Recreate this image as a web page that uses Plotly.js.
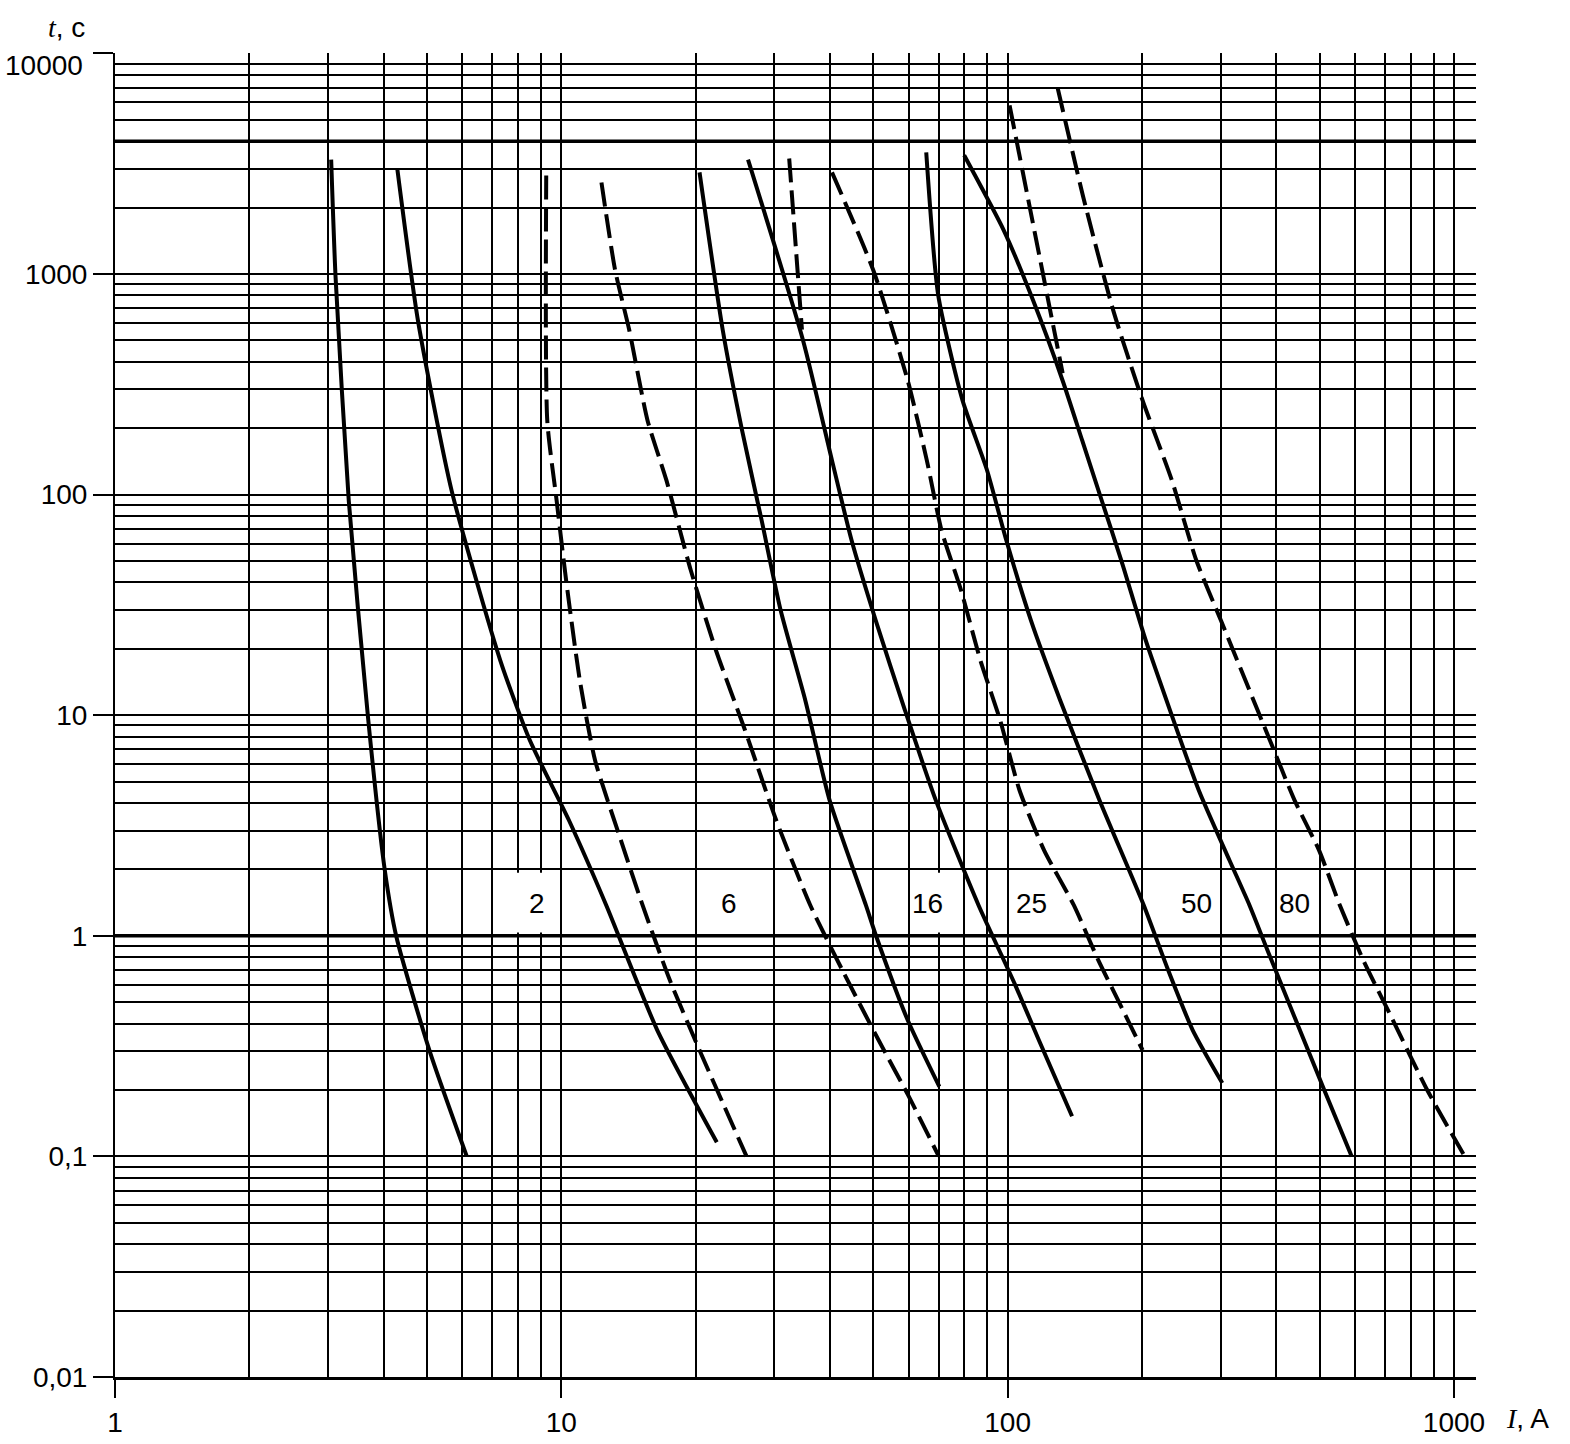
<!DOCTYPE html>
<html><head><meta charset="utf-8">
<script src="https://cdn.plot.ly/plotly-3.0.1.min.js"></script>
<style>html,body{margin:0;padding:0;background:#fff}#chart{width:1570px;height:1444px}</style>
</head><body><div id="chart"></div>
<script>
// ---- Data: current I (A) and time t (s) for each characteristic ----
const curveA_I = [3.05, 3.12, 3.34, 3.69, 4.02, 4.27, 5.07, 6.14];
const curveA_t = [3300, 970, 94, 9.7, 2.0, 0.99, 0.30, 0.10];

const curveB_I = [4.29, 4.77, 5.68, 7.30, 8.50, 10.4, 12.6, 16.4, 22.3];
const curveB_t = [3000, 620, 104, 17.7, 7.7, 3.34, 1.38, 0.374, 0.116];

const curveC_I = [9.25, 9.30, 9.76, 10.25, 11.0, 11.9, 13.6, 15.2, 17.5, 20.4, 26.0];
const curveC_t = [2800, 217, 94, 40.9, 14.4, 6.25, 2.71, 1.38, 0.63, 0.303, 0.10];

const curveD_I = [12.3, 13.2, 14.2, 15.6, 17.2, 19.5, 22.2, 25.8, 30.3, 36.1, 42.6, 51.4, 59.8, 70.1];
const curveD_t = [2600, 1040, 556, 217, 116, 45.4, 19.7, 8.55, 3.34, 1.38, 0.70, 0.336, 0.19, 0.10];

const curveE_I = [20.4, 23.0, 25.4, 28.1, 31.0, 35.2, 39.9, 48.1, 50.8, 59.7, 70.3];
const curveE_t = [2890, 556, 196, 76.6, 29.9, 11.7, 4.12, 1.38, 0.99, 0.415, 0.207];

const curveF_I = [26.2, 34.8, 40.4, 44.7, 50.6, 58.9, 69.0, 86.0, 104.0, 117.5, 139.4];
const curveF_t = [3300, 500, 143, 62.1, 27, 10.5, 4.12, 1.38, 0.598, 0.336, 0.152];

const curveF2_I = [32.4, 34.6];
const curveF2_t = [3340, 560];

const curveG_I = [40.4, 50.0, 59.7, 65.9, 71.1, 78.6, 86.9, 96.2, 106.3, 120.7, 140.6, 159.6, 176.7, 200.6];
const curveG_t = [2890, 1040, 330, 143, 68.8, 36.9, 17.7, 9.5, 4.57, 2.44, 1.38, 0.776, 0.511, 0.303];

const curveH_I = [65.7, 69.9, 79.2, 89.9, 99.3, 112.7, 131.1, 160.6, 201.7, 228.8, 259.7, 302.6];
const curveH_t = [3557, 800, 268, 129, 62.1, 27, 11.7, 4.12, 1.38, 0.70, 0.374, 0.215];

const curveI_I = [79.9, 98.0, 114.0, 132.7, 146.9, 162.4, 179.7, 203.8, 231.2, 268, 314, 348, 382, 439, 512, 590];
const curveI_t = [3453, 1578, 760, 330, 176, 94.3, 50.4, 21.9, 10.5, 4.57, 2.2, 1.38, 0.86, 0.43, 0.20, 0.10];

const curveI2_I = [101, 132.8];
const curveI2_t = [5810, 355];

const curveJ_I = [129.5, 148.3, 172.4, 200.5, 233.3, 264.6, 300.2, 340.9, 386.8, 439.2, 498.6, 554.6, 626.3, 729.5, 871, 1057];
const curveJ_t = [6935, 2160, 684, 268, 116, 50.4, 27, 14.4, 7.7, 4.12, 2.44, 1.38, 0.776, 0.415, 0.20, 0.10];

// Rated-current labels
const labelTexts = ["2", "6", "16", "25", "50", "80"];
const labelCenterI = [8.84, 23.7, 66.2, 113.2, 265, 439];
const labelBoxFrom = [7, 20, 60, 100, 200, 400];
const labelBoxTo = [10, 30, 80, 200, 300, 500];

// Axis ticks (the top label is set just below its tick, as in the source)
const xTickVals = [1, 10, 100, 1000];
const xTickText = ["1", "10", "100", "1000"];
const yTickVals = [0.01, 0.1, 1, 10, 100, 1000, 10000];
const yTickText = ["0,01", "0,1", "1", "10", "100", "1000", ""];
const yTopLabel = "10000";

// ---- build ----
function minorVals(d0, d1) {
  const v = [];
  for (let e = d0; e <= d1; e++) for (let k = 2; k <= 9; k++) v.push(k * Math.pow(10, e));
  return v;
}

const SOLID = 'solid';
const DASH = '24px,8px';
const series = [
  [curveA_I, curveA_t, SOLID],
  [curveB_I, curveB_t, SOLID],
  [curveC_I, curveC_t, DASH],
  [curveD_I, curveD_t, DASH],
  [curveE_I, curveE_t, SOLID],
  [curveF_I, curveF_t, SOLID],
  [curveF2_I, curveF2_t, DASH],
  [curveG_I, curveG_t, DASH],
  [curveH_I, curveH_t, SOLID],
  [curveI_I, curveI_t, SOLID],
  [curveI2_I, curveI2_t, DASH],
  [curveJ_I, curveJ_t, DASH]
];

const traces = series.map(s => ({
  type: 'scatter', mode: 'lines', x: s[0], y: s[1],
  line: {color: '#000', width: 4, dash: s[2], shape: 'spline', smoothing: 0.6},
  hoverinfo: 'skip', showlegend: false
}));

const shapes = [];
labelTexts.forEach((t, i) => {
  shapes.push({type: 'rect', xref: 'x', yref: 'y', layer: 'between',
    x0: labelBoxFrom[i] * 1.012, x1: labelBoxTo[i] / 1.012, y0: 1.035, y1: 1.93,
    fillcolor: '#fff', line: {width: 0}});
});
[1, 4000].forEach(v => shapes.push({type: 'line', xref: 'paper', yref: 'y', layer: 'between',
  x0: 0, x1: 1, y0: v, y1: v, line: {color: '#000', width: 3.5}}));

const font = {family: 'Liberation Sans, Arial, sans-serif', size: 28, color: '#000'};
const annotations = labelTexts.map((t, i) => ({
  xref: 'x', yref: 'y', x: Math.log10(labelCenterI[i]), y: Math.log10(1.4),
  xanchor: 'center', yanchor: 'middle',
  text: t, showarrow: false, font: font
}));
annotations.push({xref: 'paper', yref: 'paper', x: -0.0220, y: 0.9909, xanchor: 'right', yanchor: 'middle',
  showarrow: false, text: yTopLabel, font: font});
annotations.push({xref: 'paper', yref: 'paper', x: -0.0360, y: 1.0190, xanchor: 'center', yanchor: 'middle', showarrow: false,
  text: '<span style="font-family:Liberation Serif;font-style:italic">t</span>, c', font: font});
annotations.push({xref: 'paper', yref: 'paper', x: 1.0382, y: -0.0310, xanchor: 'center', yanchor: 'middle', showarrow: false,
  text: '<span style="font-family:Liberation Serif;font-style:italic">I</span>, A', font: font});

const layout = {
  width: 1570, height: 1444,
  margin: {l: 115, r: 94, t: 53, b: 67},
  paper_bgcolor: '#fff', plot_bgcolor: '#fff',
  showlegend: false,
  font: font,
  xaxis: {
    type: 'log', range: [0, 3.0493],
    tickmode: 'array', tickvals: xTickVals, ticktext: xTickText,
    ticks: 'outside', ticklen: 18, tickwidth: 2, tickcolor: '#000',
    showgrid: true, gridcolor: '#000', gridwidth: 2,
    showline: true, linecolor: '#000', linewidth: 3,
    zeroline: false, tickfont: font,
    minor: {tickmode: 'array', tickvals: minorVals(0, 3), showgrid: true, gridcolor: '#000', gridwidth: 2, ticks: ''}
  },
  yaxis: {
    type: 'log', range: [-2, 4.002],
    tickmode: 'array', tickvals: yTickVals, ticktext: yTickText,
    ticks: 'outside', ticklen: 20, tickwidth: 2, tickcolor: '#000',
    showgrid: true, gridcolor: '#000', gridwidth: 2,
    showline: true, linecolor: '#000', linewidth: 2,
    zeroline: false, tickfont: font,
    minor: {tickmode: 'array', tickvals: minorVals(-2, 3), showgrid: true, gridcolor: '#000', gridwidth: 2, ticks: ''}
  },
  shapes: shapes,
  annotations: annotations
};

Plotly.newPlot('chart', traces, layout, {displayModeBar: false, staticPlot: true});
</script></body></html>
